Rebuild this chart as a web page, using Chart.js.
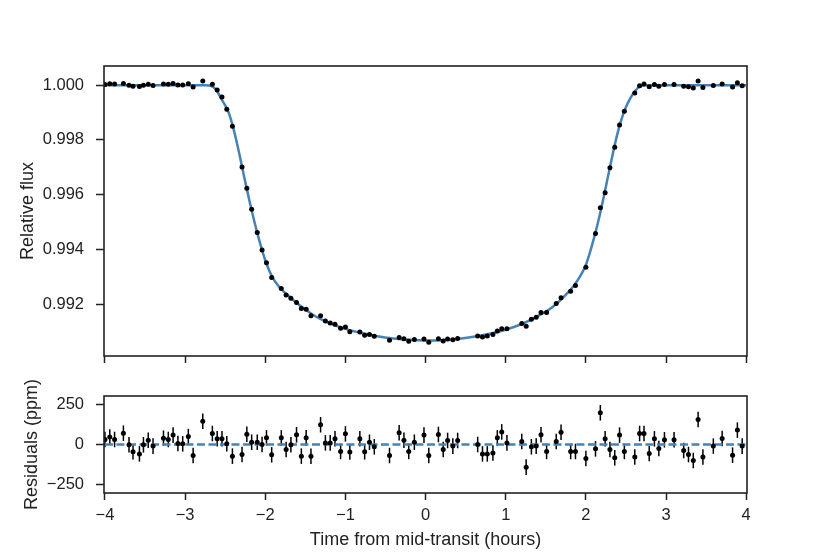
<!DOCTYPE html>
<html>
<head>
<meta charset="utf-8">
<script src="https://cdn.jsdelivr.net/npm/chart.js@4.4.1/dist/chart.umd.min.js"></script>
<style>
    html, body { margin: 0; padding: 0; background: #fff; }
    #wrap { position: relative; width: 830px; height: 554px; }
    #wrap canvas { position: absolute; left: 0; top: 0; }
</style>
</head>
<body>
<div id="wrap">
    <canvas id="fluxChart" width="830" height="554"></canvas>
    <canvas id="residualChart" width="830" height="554"></canvas>
</div>
<script>
// OBSERVATIONS: TIME FROM MID-TRANSIT (HOURS)
const times = [
    -4.00, -3.94, -3.88, -3.77, -3.70, -3.65, -3.57, -3.52, -3.46, -3.40,
    -3.27, -3.21, -3.15, -3.09, -3.03, -2.96, -2.90, -2.78, -2.66, -2.60,
    -2.54, -2.48, -2.41, -2.29, -2.23, -2.17, -2.10, -2.04, -1.985, -1.92,
    -1.80, -1.74, -1.68, -1.61, -1.55, -1.49, -1.43, -1.31, -1.25, -1.19,
    -1.13, -1.06, -1.00, -0.945, -0.82, -0.76, -0.70, -0.64, -0.45, -0.33,
    -0.27, -0.21, -0.14, -0.02, 0.04, 0.16, 0.22, 0.275, 0.34, 0.40,
    0.65, 0.71, 0.77, 0.84, 0.895, 0.95, 1.015, 1.20, 1.255, 1.32,
    1.38, 1.44, 1.51, 1.63, 1.69, 1.81, 1.87, 2.00, 2.12, 2.18,
    2.24, 2.30, 2.36, 2.42, 2.48, 2.61, 2.67, 2.725, 2.79, 2.855,
    2.91, 2.98, 3.10, 3.22, 3.28, 3.34, 3.40, 3.46, 3.59, 3.70,
    3.83, 3.89, 3.95
];

// RELATIVE FLUX AT EACH TIME
const flux = [
    1.00002, 1.00005, 1.00004, 1.00006, 1.00000, 0.99996, 0.99995, 1.00000, 1.00003, 0.99999,
    1.00004, 1.00003, 1.00006, 1.00001, 1.00001, 1.00005, 0.99993, 1.00015, 1.00003, 0.99982,
    0.99957, 0.99912, 0.99850, 0.99701, 0.99623, 0.99546, 0.99461, 0.99397, 0.99351, 0.99297,
    0.99257, 0.99233, 0.99221, 0.99206, 0.99184, 0.99181, 0.99157, 0.99157, 0.99138, 0.99131,
    0.99126, 0.99111, 0.99116, 0.99099, 0.99098, 0.99086, 0.99089, 0.99082, 0.99068, 0.99078,
    0.99073, 0.99064, 0.99070, 0.99072, 0.99060, 0.99073, 0.99065, 0.99072, 0.99069, 0.99074,
    0.99083, 0.99079, 0.99083, 0.99089, 0.99101, 0.99110, 0.99110, 0.99129, 0.99119, 0.99144,
    0.99152, 0.99169, 0.99169, 0.99202, 0.99223, 0.99247, 0.99268, 0.99334, 0.99458, 0.99552,
    0.99607, 0.99698, 0.99773, 0.99854, 0.99905, 0.99971, 0.99998, 1.00004, 0.99994, 1.00002,
    0.99996, 1.00002, 1.00002, 0.99996, 0.99994, 0.99990, 1.00015, 0.99991, 0.99999, 1.00004,
    0.99993, 1.00009, 0.99998
];

// RESIDUALS (PPM)
const residuals = [
    31, 47, 31, 70, -2, -45, -58, -2, 27, -10,
    39, 31, 58, 6, 4, 49, -68, 144, 68, 35,
    35, 4, -72, -62, 64, 14, 14, 0, 41, -64,
    41, -31, -2, 60, -72, 41, -72, 122, 10, 10,
    35, -43, 66, -47, 35, -45, 14, -14, -68, 72,
    27, -43, 14, 58, -68, 62, -31, 25, -10, 25,
    0, -58, -58, -52, 41, 78, 10, 19, -140, -14,
    -10, 60, -43, 19, 76, -43, -43, -87, -27, 196,
    35, -31, -82, 58, -43, -78, 68, 68, -56, 35,
    -25, 29, 29, -37, -62, -99, 155, -78, -10, 37,
    -66, 89, -10
];
const residualError = 48;

// BEST-FIT TRANSIT MODEL
const modelTimes = [
    -4.0, -3.0, -2.75, -2.70, -2.65, -2.60, -2.55, -2.50, -2.45, -2.40,
    -2.35, -2.30, -2.25, -2.20, -2.15, -2.10, -2.05, -2.00, -1.95, -1.90,
    -1.85, -1.80, -1.70, -1.60, -1.50, -1.40, -1.30, -1.20, -1.10, -1.00,
    -0.80, -0.60, -0.40, -0.20, 0.0, 0.20, 0.40, 0.60, 0.80, 1.00,
    1.20, 1.30, 1.40, 1.50, 1.60, 1.70, 1.80, 1.85, 1.90, 1.95,
    2.00, 2.05, 2.10, 2.15, 2.20, 2.25, 2.30, 2.35, 2.40, 2.45,
    2.50, 2.55, 2.60, 2.65, 2.70, 2.75, 2.80, 3.0, 4.0
];
const modelFlux = [
    1.00000, 1.00000, 1.00000, 0.99999, 0.99993, 0.99978, 0.99951, 0.99926, 0.99894, 0.99845,
    0.99784, 0.99716, 0.99647, 0.99580, 0.99518, 0.99460, 0.99407, 0.99360, 0.99322, 0.99293,
    0.99271, 0.99254, 0.99227, 0.99202, 0.99180, 0.99160, 0.99144, 0.99130, 0.99119, 0.99109,
    0.99094, 0.99082, 0.99074, 0.99069, 0.99067, 0.99068, 0.99072, 0.99080, 0.99091, 0.99106,
    0.99127, 0.99140, 0.99156, 0.99172, 0.99193, 0.99219, 0.99250, 0.99267, 0.99288, 0.99313,
    0.99343, 0.99388, 0.99440, 0.99497, 0.99560, 0.99630, 0.99700, 0.99768, 0.99830, 0.99880,
    0.99920, 0.99950, 0.99973, 0.99990, 0.99998, 1.00000, 1.00000, 1.00000, 1.00000
];

const zeroLineTimes = [-4, 4];
const zeroLineValues = [0, 0];

// TICKS
const timeTicks = [-4, -3, -2, -1, 0, 1, 2, 3, 4];
const fluxTicks = [0.992, 0.994, 0.996, 0.998, 1.000];
const residualTicks = [-250, 0, 250];

const INK = '#222222';
const BLUE = '#4682b4';
const FONT = '"Liberation Sans", Arial, sans-serif';

function toPoints(xs, ys) {
    return xs.map((x, i) => ({ x: x, y: ys[i] }));
}

function minusSign(v) {
    return String(v).replace('-', '\u2212');
}

// BOX AROUND EACH PANEL
const frameBox = {
    id: 'frameBox',
    afterDraw(chart) {
        const { ctx, chartArea: a } = chart;
        ctx.save();
        ctx.strokeStyle = INK;
        ctx.lineWidth = 1.6;
        ctx.strokeRect(a.left, a.top, a.right - a.left, a.bottom - a.top);
        ctx.restore();
    }
};

// VERTICAL ERROR BARS ON THE RESIDUALS
const errorBars = {
    id: 'errorBars',
    beforeDatasetsDraw(chart) {
        const { ctx, scales: { x, y } } = chart;
        ctx.save();
        ctx.strokeStyle = '#000';
        ctx.lineWidth = 1.5;
        times.forEach((t, i) => {
            const px = x.getPixelForValue(t);
            ctx.beginPath();
            ctx.moveTo(px, y.getPixelForValue(residuals[i] - residualError));
            ctx.lineTo(px, y.getPixelForValue(residuals[i] + residualError));
            ctx.stroke();
        });
        ctx.restore();
    }
};

function xAxis(showLabels, height) {
    return {
        type: 'linear',
        min: -4.012,
        max: 4.01,
        afterBuildTicks(scale) {
            scale.ticks = timeTicks.map(v => ({ value: v }));
        },
        afterFit(scale) {
            scale.height = height;
        },
        grid: {
            drawOnChartArea: false,
            drawTicks: true,
            tickLength: 7,
            tickWidth: 1.5,
            tickColor: INK
        },
        border: { display: false },
        ticks: {
            display: showLabels,
            padding: 6,
            color: INK,
            font: { family: FONT, size: 16.5 },
            callback: v => minusSign(v)
        },
        title: {
            display: showLabels,
            text: 'Time from mid-transit (hours)',
            color: INK,
            font: { family: FONT, size: 18 },
            padding: { top: 0, bottom: 3 }
        }
    };
}

function yAxis(min, max, tickValues, label, titlePad, format) {
    return {
        type: 'linear',
        min: min,
        max: max,
        afterBuildTicks(scale) {
            scale.ticks = tickValues.map(v => ({ value: v }));
        },
        afterFit(scale) {
            scale.width = 104;
        },
        grid: {
            drawOnChartArea: false,
            drawTicks: true,
            tickLength: 8,
            tickWidth: 1.5,
            tickColor: INK
        },
        border: { display: false },
        ticks: {
            padding: 12,
            color: INK,
            font: { family: FONT, size: 16.5 },
            callback: format
        },
        title: {
            display: true,
            text: label,
            color: INK,
            font: { family: FONT, size: 18 },
            padding: { top: titlePad, bottom: 0 }
        }
    };
}

const common = {
    responsive: false,
    animation: false,
    events: [],
    plugins: { legend: { display: false }, tooltip: { enabled: false } }
};

// TOP PANEL: LIGHT CURVE
new Chart(document.getElementById('fluxChart'), {
    type: 'scatter',
    data: {
        datasets: [
            {
                data: toPoints(times, flux),
                backgroundColor: '#000',
                borderWidth: 0,
                pointRadius: 2.5
            },
            {
                data: toPoints(modelTimes, modelFlux),
                showLine: true,
                borderColor: BLUE,
                borderWidth: 2.5,
                pointRadius: 0,
                cubicInterpolationMode: 'monotone'
            }
        ]
    },
    options: Object.assign({}, common, {
        layout: { padding: { left: 0, top: 66, right: 83, bottom: 554 - 356 - 10 } },
        scales: {
            x: xAxis(false, 10),
            y: yAxis(0.99010, 1.00070, fluxTicks, 'Relative flux', 17, v => v.toFixed(3))
        }
    }),
    plugins: [frameBox]
});

// BOTTOM PANEL: RESIDUALS
new Chart(document.getElementById('residualChart'), {
    type: 'scatter',
    data: {
        datasets: [
            {
                data: toPoints(times, residuals),
                backgroundColor: '#000',
                borderWidth: 0,
                pointRadius: 2.5
            },
            {
                data: toPoints(zeroLineTimes, zeroLineValues),
                showLine: true,
                borderColor: BLUE,
                borderWidth: 2.6,
                borderDash: [8, 3.5],
                pointRadius: 0
            }
        ]
    },
    options: Object.assign({}, common, {
        layout: { padding: { left: 0, top: 396, right: 83, bottom: 0 } },
        scales: {
            x: xAxis(true, 554 - 493),
            y: yAxis(-300, 300, residualTicks, 'Residuals (ppm)', 21, v => minusSign(v))
        }
    }),
    plugins: [errorBars, frameBox]
});
</script>
</body>
</html>
